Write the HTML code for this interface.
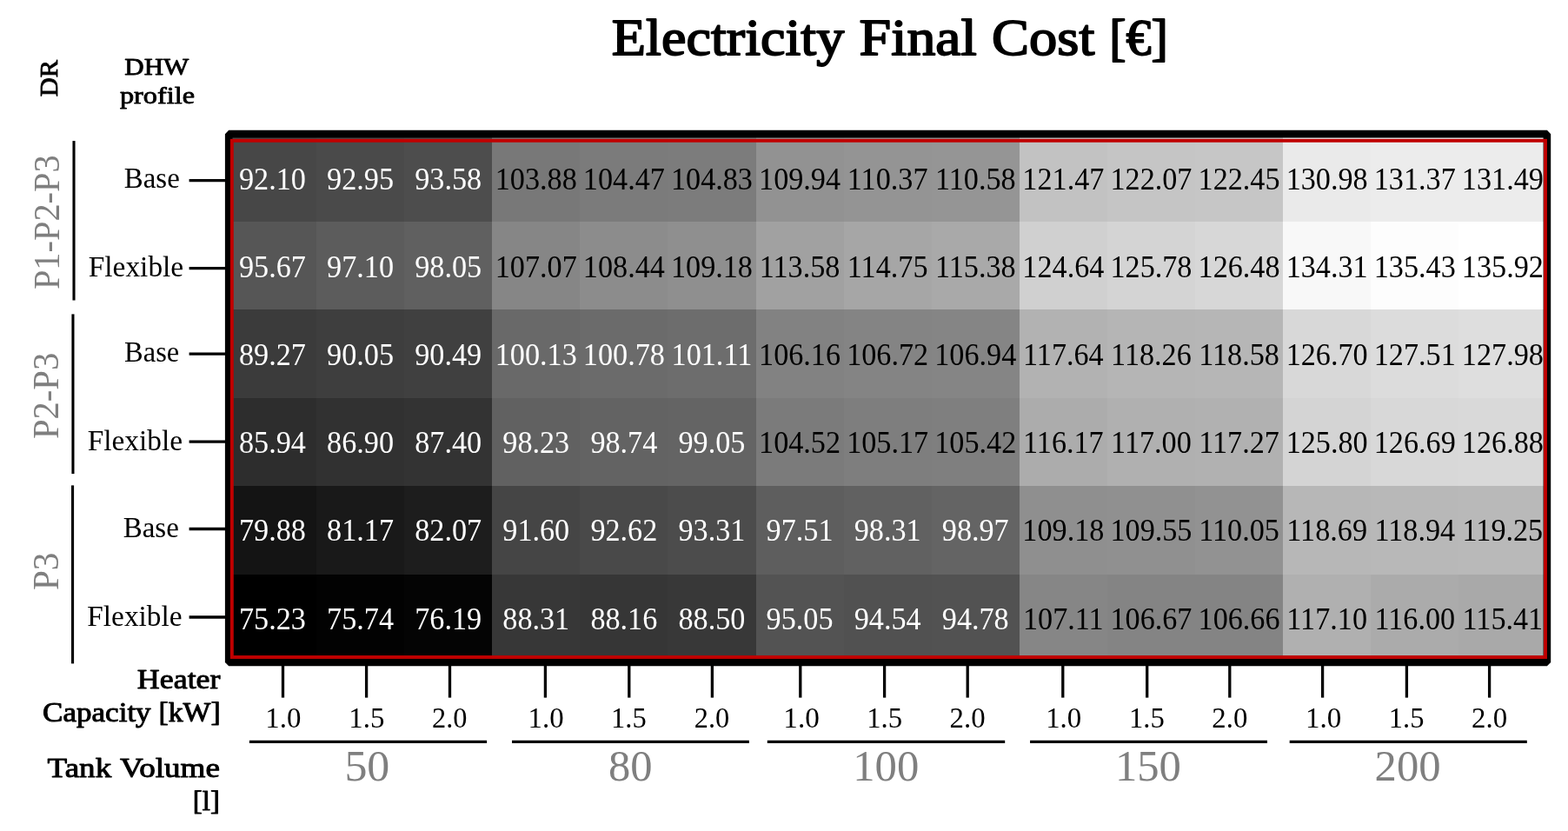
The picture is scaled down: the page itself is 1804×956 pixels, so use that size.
<!DOCTYPE html>
<html lang="en"><head><meta charset="utf-8"><title>Electricity Final Cost [€]</title>
<style>html,body{margin:0;padding:0;background:#fff;overflow:hidden}svg{display:block}text{font-family:"Liberation Serif", serif;white-space:pre}.c{font-size:36.1px;text-anchor:middle}.w{fill:#fff}</style>
</head><body>
<svg width="1804" height="956" viewBox="0 0 1804 956" role="img" aria-label="Electricity Final Cost heatmap">
<rect width="1804" height="956" fill="#fff"/>
<g shape-rendering="crispEdges">
<rect x="262.90" y="153.40" width="101.70" height="102.03" fill="#474747"/>
<rect x="364.00" y="153.40" width="101.70" height="102.03" fill="#4a4a4a"/>
<rect x="465.10" y="153.40" width="101.70" height="102.03" fill="#4d4d4d"/>
<rect x="566.20" y="153.40" width="101.70" height="102.03" fill="#787878"/>
<rect x="667.30" y="153.40" width="101.70" height="102.03" fill="#7b7b7b"/>
<rect x="768.40" y="153.40" width="101.70" height="102.03" fill="#7c7c7c"/>
<rect x="869.50" y="153.40" width="101.70" height="102.03" fill="#929292"/>
<rect x="970.60" y="153.40" width="101.70" height="102.03" fill="#949494"/>
<rect x="1071.70" y="153.40" width="101.70" height="102.03" fill="#959595"/>
<rect x="1172.80" y="153.40" width="101.70" height="102.03" fill="#c2c2c2"/>
<rect x="1273.90" y="153.40" width="101.70" height="102.03" fill="#c5c5c5"/>
<rect x="1375.00" y="153.40" width="101.70" height="102.03" fill="#c6c6c6"/>
<rect x="1476.10" y="153.40" width="101.70" height="102.03" fill="#eaeaea"/>
<rect x="1577.20" y="153.40" width="101.70" height="102.03" fill="#ececec"/>
<rect x="1678.30" y="153.40" width="101.70" height="102.03" fill="#ececec"/>
<rect x="262.90" y="254.83" width="101.70" height="102.03" fill="#565656"/>
<rect x="364.00" y="254.83" width="101.70" height="102.03" fill="#5c5c5c"/>
<rect x="465.10" y="254.83" width="101.70" height="102.03" fill="#606060"/>
<rect x="566.20" y="254.83" width="101.70" height="102.03" fill="#868686"/>
<rect x="667.30" y="254.83" width="101.70" height="102.03" fill="#8c8c8c"/>
<rect x="768.40" y="254.83" width="101.70" height="102.03" fill="#8f8f8f"/>
<rect x="869.50" y="254.83" width="101.70" height="102.03" fill="#a1a1a1"/>
<rect x="970.60" y="254.83" width="101.70" height="102.03" fill="#a6a6a6"/>
<rect x="1071.70" y="254.83" width="101.70" height="102.03" fill="#a9a9a9"/>
<rect x="1172.80" y="254.83" width="101.70" height="102.03" fill="#d0d0d0"/>
<rect x="1273.90" y="254.83" width="101.70" height="102.03" fill="#d4d4d4"/>
<rect x="1375.00" y="254.83" width="101.70" height="102.03" fill="#d7d7d7"/>
<rect x="1476.10" y="254.83" width="101.70" height="102.03" fill="#f8f8f8"/>
<rect x="1577.20" y="254.83" width="101.70" height="102.03" fill="#fdfdfd"/>
<rect x="1678.30" y="254.83" width="101.70" height="102.03" fill="#ffffff"/>
<rect x="262.90" y="356.27" width="101.70" height="102.03" fill="#3b3b3b"/>
<rect x="364.00" y="356.27" width="101.70" height="102.03" fill="#3e3e3e"/>
<rect x="465.10" y="356.27" width="101.70" height="102.03" fill="#404040"/>
<rect x="566.20" y="356.27" width="101.70" height="102.03" fill="#696969"/>
<rect x="667.30" y="356.27" width="101.70" height="102.03" fill="#6b6b6b"/>
<rect x="768.40" y="356.27" width="101.70" height="102.03" fill="#6d6d6d"/>
<rect x="869.50" y="356.27" width="101.70" height="102.03" fill="#828282"/>
<rect x="970.60" y="356.27" width="101.70" height="102.03" fill="#848484"/>
<rect x="1071.70" y="356.27" width="101.70" height="102.03" fill="#858585"/>
<rect x="1172.80" y="356.27" width="101.70" height="102.03" fill="#b2b2b2"/>
<rect x="1273.90" y="356.27" width="101.70" height="102.03" fill="#b5b5b5"/>
<rect x="1375.00" y="356.27" width="101.70" height="102.03" fill="#b6b6b6"/>
<rect x="1476.10" y="356.27" width="101.70" height="102.03" fill="#d8d8d8"/>
<rect x="1577.20" y="356.27" width="101.70" height="102.03" fill="#dcdcdc"/>
<rect x="1678.30" y="356.27" width="101.70" height="102.03" fill="#dedede"/>
<rect x="262.90" y="457.70" width="101.70" height="102.03" fill="#2d2d2d"/>
<rect x="364.00" y="457.70" width="101.70" height="102.03" fill="#313131"/>
<rect x="465.10" y="457.70" width="101.70" height="102.03" fill="#333333"/>
<rect x="566.20" y="457.70" width="101.70" height="102.03" fill="#616161"/>
<rect x="667.30" y="457.70" width="101.70" height="102.03" fill="#636363"/>
<rect x="768.40" y="457.70" width="101.70" height="102.03" fill="#646464"/>
<rect x="869.50" y="457.70" width="101.70" height="102.03" fill="#7b7b7b"/>
<rect x="970.60" y="457.70" width="101.70" height="102.03" fill="#7e7e7e"/>
<rect x="1071.70" y="457.70" width="101.70" height="102.03" fill="#7f7f7f"/>
<rect x="1172.80" y="457.70" width="101.70" height="102.03" fill="#acacac"/>
<rect x="1273.90" y="457.70" width="101.70" height="102.03" fill="#b0b0b0"/>
<rect x="1375.00" y="457.70" width="101.70" height="102.03" fill="#b1b1b1"/>
<rect x="1476.10" y="457.70" width="101.70" height="102.03" fill="#d4d4d4"/>
<rect x="1577.20" y="457.70" width="101.70" height="102.03" fill="#d8d8d8"/>
<rect x="1678.30" y="457.70" width="101.70" height="102.03" fill="#d9d9d9"/>
<rect x="262.90" y="559.13" width="101.70" height="102.03" fill="#141414"/>
<rect x="364.00" y="559.13" width="101.70" height="102.03" fill="#191919"/>
<rect x="465.10" y="559.13" width="101.70" height="102.03" fill="#1d1d1d"/>
<rect x="566.20" y="559.13" width="101.70" height="102.03" fill="#454545"/>
<rect x="667.30" y="559.13" width="101.70" height="102.03" fill="#494949"/>
<rect x="768.40" y="559.13" width="101.70" height="102.03" fill="#4c4c4c"/>
<rect x="869.50" y="559.13" width="101.70" height="102.03" fill="#5e5e5e"/>
<rect x="970.60" y="559.13" width="101.70" height="102.03" fill="#616161"/>
<rect x="1071.70" y="559.13" width="101.70" height="102.03" fill="#646464"/>
<rect x="1172.80" y="559.13" width="101.70" height="102.03" fill="#8f8f8f"/>
<rect x="1273.90" y="559.13" width="101.70" height="102.03" fill="#909090"/>
<rect x="1375.00" y="559.13" width="101.70" height="102.03" fill="#929292"/>
<rect x="1476.10" y="559.13" width="101.70" height="102.03" fill="#b7b7b7"/>
<rect x="1577.20" y="559.13" width="101.70" height="102.03" fill="#b8b8b8"/>
<rect x="1678.30" y="559.13" width="101.70" height="102.03" fill="#b9b9b9"/>
<rect x="262.90" y="660.57" width="101.70" height="102.03" fill="#000000"/>
<rect x="364.00" y="660.57" width="101.70" height="102.03" fill="#020202"/>
<rect x="465.10" y="660.57" width="101.70" height="102.03" fill="#040404"/>
<rect x="566.20" y="660.57" width="101.70" height="102.03" fill="#373737"/>
<rect x="667.30" y="660.57" width="101.70" height="102.03" fill="#363636"/>
<rect x="768.40" y="660.57" width="101.70" height="102.03" fill="#383838"/>
<rect x="869.50" y="660.57" width="101.70" height="102.03" fill="#535353"/>
<rect x="970.60" y="660.57" width="101.70" height="102.03" fill="#515151"/>
<rect x="1071.70" y="660.57" width="101.70" height="102.03" fill="#525252"/>
<rect x="1172.80" y="660.57" width="101.70" height="102.03" fill="#868686"/>
<rect x="1273.90" y="660.57" width="101.70" height="102.03" fill="#848484"/>
<rect x="1375.00" y="660.57" width="101.70" height="102.03" fill="#848484"/>
<rect x="1476.10" y="660.57" width="101.70" height="102.03" fill="#b0b0b0"/>
<rect x="1577.20" y="660.57" width="101.70" height="102.03" fill="#ababab"/>
<rect x="1678.30" y="660.57" width="101.70" height="102.03" fill="#a9a9a9"/>
</g>
<rect x="263.20" y="154.15" width="1516.70" height="607.75" fill="none" stroke="#000" stroke-width="8.6" stroke-linejoin="bevel"/>
<rect x="266.85" y="161.8" width="1511.15" height="594.2" fill="none" stroke="#c00000" stroke-width="3.9"/>
<g stroke="#000" stroke-width="3.3" fill="none">
<line x1="325.5" y1="764" x2="325.5" y2="802.6"/>
<line x1="421.6" y1="764" x2="421.6" y2="802.6"/>
<line x1="517.5" y1="764" x2="517.5" y2="802.6"/>
<line x1="627.4" y1="764" x2="627.4" y2="802.6"/>
<line x1="723.8" y1="764" x2="723.8" y2="802.6"/>
<line x1="819.4" y1="764" x2="819.4" y2="802.6"/>
<line x1="920.8" y1="764" x2="920.8" y2="802.6"/>
<line x1="1017.6" y1="764" x2="1017.6" y2="802.6"/>
<line x1="1113.2" y1="764" x2="1113.2" y2="802.6"/>
<line x1="1222.8" y1="764" x2="1222.8" y2="802.6"/>
<line x1="1319.7" y1="764" x2="1319.7" y2="802.6"/>
<line x1="1414.8" y1="764" x2="1414.8" y2="802.6"/>
<line x1="1521.6" y1="764" x2="1521.6" y2="802.6"/>
<line x1="1618.4" y1="764" x2="1618.4" y2="802.6"/>
<line x1="1713.6" y1="764" x2="1713.6" y2="802.6"/>
<line x1="217.6" y1="207.6" x2="261" y2="207.6"/>
<line x1="217.6" y1="308.7" x2="261" y2="308.7"/>
<line x1="217.6" y1="407.1" x2="261" y2="407.1"/>
<line x1="217.6" y1="508.2" x2="261" y2="508.2"/>
<line x1="217.6" y1="608.5" x2="261" y2="608.5"/>
<line x1="217.6" y1="710.0" x2="261" y2="710.0"/>
<line x1="286.9" y1="853.3" x2="560.1" y2="853.3"/>
<line x1="589.0" y1="853.3" x2="861.9" y2="853.3"/>
<line x1="882.8" y1="853.3" x2="1156.2" y2="853.3"/>
<line x1="1185.1" y1="853.3" x2="1458.0" y2="853.3"/>
<line x1="1483.7" y1="853.3" x2="1756.8" y2="853.3"/>
</g>
<g stroke="#000" stroke-width="3.1" fill="none">
<line x1="85.00" y1="162.1" x2="85.00" y2="345.5"/>
<line x1="83.95" y1="361.4" x2="83.95" y2="545.1"/>
<line x1="83.55" y1="558.4" x2="83.55" y2="763.4"/>
</g>
<g>
<text font-size="59.27" stroke="#000" stroke-width="1.78" stroke-linejoin="round" transform="translate(703.79 62.71) scale(1.0841 1)">Electricity </text>
<text font-size="59.27" stroke="#000" stroke-width="1.78" stroke-linejoin="round" transform="translate(988.57 62.71) scale(1.1106 1)">Final </text>
<text font-size="59.27" stroke="#000" stroke-width="1.78" stroke-linejoin="round" transform="translate(1141.07 62.71) scale(1.0886 1)">Cost </text>
<text font-size="59.27" stroke="#000" stroke-width="1.78" stroke-linejoin="round" transform="translate(1276.17 62.71) scale(0.9790 1)">[€]</text>
<text font-size="28.18" stroke="#000" stroke-width="0.85" stroke-linejoin="round" transform="translate(143.35 85.67) scale(1.0989 1)">DHW</text>
<text font-size="28.18" stroke="#000" stroke-width="0.85" stroke-linejoin="round" transform="translate(137.90 119.48) scale(1.1463 1)">profile</text>
<text font-size="28.47" stroke="#000" stroke-width="0.85" stroke-linejoin="round" transform="translate(65.88 111.14) rotate(-90) scale(1.0709 1)">DR</text>
<text font-size="42.3" fill="#7f7f7f" transform="translate(68.20 333.09) rotate(-90) scale(0.9545 1)">P1-P2-P3</text>
<text font-size="42.3" fill="#7f7f7f" transform="translate(67.30 505.00) rotate(-90) scale(0.9592 1)">P2-P3</text>
<text font-size="42" fill="#7f7f7f" transform="translate(66.80 678.92) rotate(-90) scale(0.9759 1)">P3</text>
<text font-size="33.1" transform="translate(142.81 216.10) scale(0.9944 1)">Base</text>
<text font-size="33.1" transform="translate(101.69 318.20) scale(1.0099 1)">Flexible</text>
<text font-size="33.1" transform="translate(143.12 415.70) scale(0.9815 1)">Base</text>
<text font-size="33.1" transform="translate(100.69 518.30) scale(1.0089 1)">Flexible</text>
<text font-size="33.1" transform="translate(141.70 617.60) scale(0.9976 1)">Base</text>
<text font-size="33.1" transform="translate(100.29 719.80) scale(1.0080 1)">Flexible</text>
</g>
<g>
<text class="c w" transform="translate(313.45 218.00) scale(0.9470 1)">92.10</text>
<text class="c w" transform="translate(414.55 218.00) scale(0.9470 1)">92.95</text>
<text class="c w" transform="translate(515.65 218.00) scale(0.9470 1)">93.58</text>
<text class="c" transform="translate(616.75 218.00) scale(0.9470 1)">103.88</text>
<text class="c" transform="translate(717.85 218.00) scale(0.9470 1)">104.47</text>
<text class="c" transform="translate(818.95 218.00) scale(0.9470 1)">104.83</text>
<text class="c" transform="translate(920.05 218.00) scale(0.9470 1)">109.94</text>
<text class="c" transform="translate(1021.15 218.00) scale(0.9470 1)">110.37</text>
<text class="c" transform="translate(1122.25 218.00) scale(0.9470 1)">110.58</text>
<text class="c" transform="translate(1223.35 218.00) scale(0.9470 1)">121.47</text>
<text class="c" transform="translate(1324.45 218.00) scale(0.9470 1)">122.07</text>
<text class="c" transform="translate(1425.55 218.00) scale(0.9470 1)">122.45</text>
<text class="c" transform="translate(1526.65 218.00) scale(0.9470 1)">130.98</text>
<text class="c" transform="translate(1627.75 218.00) scale(0.9470 1)">131.37</text>
<text class="c" transform="translate(1728.85 218.00) scale(0.9470 1)">131.49</text>
<text class="c w" transform="translate(313.45 319.10) scale(0.9470 1)">95.67</text>
<text class="c w" transform="translate(414.55 319.10) scale(0.9470 1)">97.10</text>
<text class="c w" transform="translate(515.65 319.10) scale(0.9470 1)">98.05</text>
<text class="c" transform="translate(616.75 319.10) scale(0.9470 1)">107.07</text>
<text class="c" transform="translate(717.85 319.10) scale(0.9470 1)">108.44</text>
<text class="c" transform="translate(818.95 319.10) scale(0.9470 1)">109.18</text>
<text class="c" transform="translate(920.05 319.10) scale(0.9470 1)">113.58</text>
<text class="c" transform="translate(1021.15 319.10) scale(0.9470 1)">114.75</text>
<text class="c" transform="translate(1122.25 319.10) scale(0.9470 1)">115.38</text>
<text class="c" transform="translate(1223.35 319.10) scale(0.9470 1)">124.64</text>
<text class="c" transform="translate(1324.45 319.10) scale(0.9470 1)">125.78</text>
<text class="c" transform="translate(1425.55 319.10) scale(0.9470 1)">126.48</text>
<text class="c" transform="translate(1526.65 319.10) scale(0.9470 1)">134.31</text>
<text class="c" transform="translate(1627.75 319.10) scale(0.9470 1)">135.43</text>
<text class="c" transform="translate(1728.85 319.10) scale(0.9470 1)">135.92</text>
<text class="c w" transform="translate(313.45 420.20) scale(0.9470 1)">89.27</text>
<text class="c w" transform="translate(414.55 420.20) scale(0.9470 1)">90.05</text>
<text class="c w" transform="translate(515.65 420.20) scale(0.9470 1)">90.49</text>
<text class="c w" transform="translate(616.75 420.20) scale(0.9470 1)">100.13</text>
<text class="c w" transform="translate(717.85 420.20) scale(0.9470 1)">100.78</text>
<text class="c w" transform="translate(818.95 420.20) scale(0.9470 1)">101.11</text>
<text class="c" transform="translate(920.05 420.20) scale(0.9470 1)">106.16</text>
<text class="c" transform="translate(1021.15 420.20) scale(0.9470 1)">106.72</text>
<text class="c" transform="translate(1122.25 420.20) scale(0.9470 1)">106.94</text>
<text class="c" transform="translate(1223.35 420.20) scale(0.9470 1)">117.64</text>
<text class="c" transform="translate(1324.45 420.20) scale(0.9470 1)">118.26</text>
<text class="c" transform="translate(1425.55 420.20) scale(0.9470 1)">118.58</text>
<text class="c" transform="translate(1526.65 420.20) scale(0.9470 1)">126.70</text>
<text class="c" transform="translate(1627.75 420.20) scale(0.9470 1)">127.51</text>
<text class="c" transform="translate(1728.85 420.20) scale(0.9470 1)">127.98</text>
<text class="c w" transform="translate(313.45 521.30) scale(0.9470 1)">85.94</text>
<text class="c w" transform="translate(414.55 521.30) scale(0.9470 1)">86.90</text>
<text class="c w" transform="translate(515.65 521.30) scale(0.9470 1)">87.40</text>
<text class="c w" transform="translate(616.75 521.30) scale(0.9470 1)">98.23</text>
<text class="c w" transform="translate(717.85 521.30) scale(0.9470 1)">98.74</text>
<text class="c w" transform="translate(818.95 521.30) scale(0.9470 1)">99.05</text>
<text class="c" transform="translate(920.05 521.30) scale(0.9470 1)">104.52</text>
<text class="c" transform="translate(1021.15 521.30) scale(0.9470 1)">105.17</text>
<text class="c" transform="translate(1122.25 521.30) scale(0.9470 1)">105.42</text>
<text class="c" transform="translate(1223.35 521.30) scale(0.9470 1)">116.17</text>
<text class="c" transform="translate(1324.45 521.30) scale(0.9470 1)">117.00</text>
<text class="c" transform="translate(1425.55 521.30) scale(0.9470 1)">117.27</text>
<text class="c" transform="translate(1526.65 521.30) scale(0.9470 1)">125.80</text>
<text class="c" transform="translate(1627.75 521.30) scale(0.9470 1)">126.69</text>
<text class="c" transform="translate(1728.85 521.30) scale(0.9470 1)">126.88</text>
<text class="c w" transform="translate(313.45 622.40) scale(0.9470 1)">79.88</text>
<text class="c w" transform="translate(414.55 622.40) scale(0.9470 1)">81.17</text>
<text class="c w" transform="translate(515.65 622.40) scale(0.9470 1)">82.07</text>
<text class="c w" transform="translate(616.75 622.40) scale(0.9470 1)">91.60</text>
<text class="c w" transform="translate(717.85 622.40) scale(0.9470 1)">92.62</text>
<text class="c w" transform="translate(818.95 622.40) scale(0.9470 1)">93.31</text>
<text class="c w" transform="translate(920.05 622.40) scale(0.9470 1)">97.51</text>
<text class="c w" transform="translate(1021.15 622.40) scale(0.9470 1)">98.31</text>
<text class="c w" transform="translate(1122.25 622.40) scale(0.9470 1)">98.97</text>
<text class="c" transform="translate(1223.35 622.40) scale(0.9470 1)">109.18</text>
<text class="c" transform="translate(1324.45 622.40) scale(0.9470 1)">109.55</text>
<text class="c" transform="translate(1425.55 622.40) scale(0.9470 1)">110.05</text>
<text class="c" transform="translate(1526.65 622.40) scale(0.9470 1)">118.69</text>
<text class="c" transform="translate(1627.75 622.40) scale(0.9470 1)">118.94</text>
<text class="c" transform="translate(1728.85 622.40) scale(0.9470 1)">119.25</text>
<text class="c w" transform="translate(313.45 723.50) scale(0.9470 1)">75.23</text>
<text class="c w" transform="translate(414.55 723.50) scale(0.9470 1)">75.74</text>
<text class="c w" transform="translate(515.65 723.50) scale(0.9470 1)">76.19</text>
<text class="c w" transform="translate(616.75 723.50) scale(0.9470 1)">88.31</text>
<text class="c w" transform="translate(717.85 723.50) scale(0.9470 1)">88.16</text>
<text class="c w" transform="translate(818.95 723.50) scale(0.9470 1)">88.50</text>
<text class="c w" transform="translate(920.05 723.50) scale(0.9470 1)">95.05</text>
<text class="c w" transform="translate(1021.15 723.50) scale(0.9470 1)">94.54</text>
<text class="c w" transform="translate(1122.25 723.50) scale(0.9470 1)">94.78</text>
<text class="c" transform="translate(1223.35 723.50) scale(0.9470 1)">107.11</text>
<text class="c" transform="translate(1324.45 723.50) scale(0.9470 1)">106.67</text>
<text class="c" transform="translate(1425.55 723.50) scale(0.9470 1)">106.66</text>
<text class="c" transform="translate(1526.65 723.50) scale(0.9470 1)">117.10</text>
<text class="c" transform="translate(1627.75 723.50) scale(0.9470 1)">116.00</text>
<text class="c" transform="translate(1728.85 723.50) scale(0.9470 1)">115.41</text>
</g>
<g>
<text font-size="31.53" stroke="#000" stroke-width="0.95" stroke-linejoin="round" transform="translate(157.83 791.92) scale(1.1391 1)">Heater</text>
<text font-size="31.53" stroke="#000" stroke-width="0.95" stroke-linejoin="round" transform="translate(49.07 829.62) scale(1.1121 1)">Capacity </text>
<text font-size="31.53" stroke="#000" stroke-width="0.95" stroke-linejoin="round" transform="translate(182.42 829.62) scale(1.0730 1)">[kW]</text>
<text font-size="31.53" stroke="#000" stroke-width="0.95" stroke-linejoin="round" transform="translate(54.60 894.23) scale(1.1762 1)">Tank </text>
<text font-size="31.53" stroke="#000" stroke-width="0.95" stroke-linejoin="round" transform="translate(138.10 894.23) scale(1.1783 1)">Volume</text>
<text font-size="31.53" stroke="#000" stroke-width="0.95" stroke-linejoin="round" transform="translate(221.87 931.92) scale(1.0438 1)">[l]</text>
<text font-size="33.3" transform="translate(305.24 837.40) scale(0.9879 1)">1.0</text>
<text font-size="33.3" transform="translate(401.24 837.40) scale(0.9879 1)">1.5</text>
<text font-size="33.3" transform="translate(496.94 837.40) scale(0.9729 1)">2.0</text>
<text font-size="33.3" transform="translate(607.54 837.40) scale(0.9879 1)">1.0</text>
<text font-size="33.3" transform="translate(703.07 837.40) scale(0.9772 1)">1.5</text>
<text font-size="33.3" transform="translate(798.74 837.40) scale(0.9729 1)">2.0</text>
<text font-size="33.3" transform="translate(901.30 837.40) scale(0.9987 1)">1.0</text>
<text font-size="33.3" transform="translate(997.14 837.40) scale(0.9852 1)">1.5</text>
<text font-size="33.3" transform="translate(1092.52 837.40) scale(0.9858 1)">2.0</text>
<text font-size="33.3" transform="translate(1203.14 837.40) scale(0.9879 1)">1.0</text>
<text font-size="33.3" transform="translate(1298.95 837.40) scale(0.9826 1)">1.5</text>
<text font-size="33.3" transform="translate(1394.32 837.40) scale(0.9858 1)">2.0</text>
<text font-size="33.3" transform="translate(1502.02 837.40) scale(0.9933 1)">1.0</text>
<text font-size="33.3" transform="translate(1597.77 837.40) scale(0.9772 1)">1.5</text>
<text font-size="33.3" transform="translate(1693.02 837.40) scale(0.9884 1)">2.0</text>
<text font-size="51.6" fill="#7f7f7f" transform="translate(396.38 898.30) scale(1.0075 1)">50</text>
<text font-size="51.6" fill="#7f7f7f" transform="translate(699.94 898.30) scale(0.9801 1)">80</text>
<text font-size="51.6" fill="#7f7f7f" transform="translate(981.18 898.30) scale(0.9831 1)">100</text>
<text font-size="51.6" fill="#7f7f7f" transform="translate(1282.88 898.30) scale(0.9817 1)">150</text>
<text font-size="51.6" fill="#7f7f7f" transform="translate(1581.59 898.30) scale(0.9829 1)">200</text>
</g>
</svg>
</body></html>
